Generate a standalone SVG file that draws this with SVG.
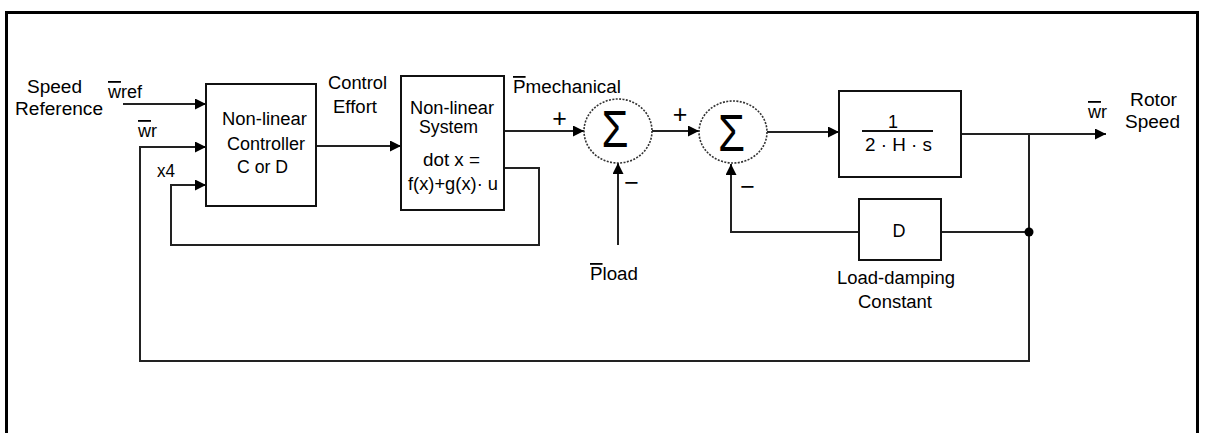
<svg xmlns="http://www.w3.org/2000/svg" width="1205" height="433" viewBox="0 0 1205 433">
<defs>
<style>
text{font-family:"Liberation Sans",Arial,sans-serif;font-size:18px;fill:#000}
.mid{text-anchor:middle}
.pm{font-size:25px}
.box{fill:#fff;stroke:#111;stroke-width:2}
.sum{fill:#fff;stroke:#333;stroke-width:1.6;stroke-dasharray:2 1.4}
.sig{font-size:52px}
.ln{fill:none;stroke:#222;stroke-width:2}
.ol{text-decoration:overline}
</style>
<marker id="ah" markerUnits="userSpaceOnUse" markerWidth="12" markerHeight="11" refX="11" refY="5.5" orient="auto">
<path d="M0,0 L11,5.5 L0,11 z" fill="#000"/>
</marker>
</defs>
<rect width="1205" height="433" fill="#fff"/>
<path d="M6.5,440 V12.5 H1197.5 V440" fill="none" stroke="#000" stroke-width="3"/>

<g id="connectors">
<path class="ln" d="M123,104 H206" marker-end="url(#ah)"/>
<path class="ln" d="M1029,134 V361 H140 V147 H206" marker-end="url(#ah)"/>
<path class="ln" d="M504,168 H539 V245 H171 V185 H206" marker-end="url(#ah)"/>
<path class="ln" d="M316,146 H401" marker-end="url(#ah)"/>
<path class="ln" d="M504,131 H584" marker-end="url(#ah)"/>
<path class="ln" d="M618,245 V163" marker-end="url(#ah)"/>
<path class="ln" d="M652,131 H699" marker-end="url(#ah)"/>
<path class="ln" d="M767,132 H839" marker-end="url(#ah)"/>
<path class="ln" d="M961,134 H1106" marker-end="url(#ah)"/>
<path class="ln" d="M1029,232 H941"/>
<path class="ln" d="M859,232 H731 V164" marker-end="url(#ah)"/>
<circle cx="1029" cy="232" r="4.5" fill="#000"/>
</g>

<g id="labels">
<text x="27" y="93" textLength="55" lengthAdjust="spacingAndGlyphs">Speed</text>
<text x="15" y="115" textLength="88" lengthAdjust="spacingAndGlyphs">Reference</text>
<text x="108" y="98" textLength="34" lengthAdjust="spacingAndGlyphs"><tspan class="ol">w</tspan>ref</text>
<text x="138" y="137" textLength="19" lengthAdjust="spacingAndGlyphs"><tspan class="ol">w</tspan>r</text>
<text x="157" y="177" textLength="18" lengthAdjust="spacingAndGlyphs">x4</text>
<text x="357.5" y="89" class="mid" textLength="59" lengthAdjust="spacingAndGlyphs">Control</text>
<text x="355" y="113" class="mid" textLength="44" lengthAdjust="spacingAndGlyphs">Effort</text>
<text x="513" y="93" textLength="108" lengthAdjust="spacingAndGlyphs"><tspan class="ol">P</tspan>mechanical</text>
<text x="590" y="280" textLength="48" lengthAdjust="spacingAndGlyphs"><tspan class="ol">P</tspan>load</text>
<text x="559.5" y="127" class="mid pm">+</text>
<text x="631.5" y="191" class="mid pm">−</text>
<text x="680" y="123" class="mid pm">+</text>
<text x="747.5" y="195" class="mid pm">−</text>
<text x="896" y="284" class="mid" textLength="118" lengthAdjust="spacingAndGlyphs">Load-damping</text>
<text x="895" y="308" class="mid" textLength="74" lengthAdjust="spacingAndGlyphs">Constant</text>
<text x="1088" y="118" textLength="19" lengthAdjust="spacingAndGlyphs"><tspan class="ol">w</tspan>r</text>
<text x="1153.5" y="106" class="mid" textLength="47" lengthAdjust="spacingAndGlyphs">Rotor</text>
<text x="1152.5" y="128" class="mid" textLength="55" lengthAdjust="spacingAndGlyphs">Speed</text>
</g>

<g id="controller">
<rect class="box" x="206" y="84" width="110" height="122"/>
<text x="264.5" y="125" class="mid" textLength="85" lengthAdjust="spacingAndGlyphs">Non-linear</text>
<text x="266" y="150" class="mid" textLength="78" lengthAdjust="spacingAndGlyphs">Controller</text>
<text x="262.5" y="173" class="mid" textLength="51" lengthAdjust="spacingAndGlyphs">C or D</text>
</g>

<g id="system">
<rect class="box" x="401" y="76" width="103" height="134"/>
<text x="452" y="114" class="mid" textLength="84" lengthAdjust="spacingAndGlyphs">Non-linear</text>
<text x="448.5" y="133" class="mid" textLength="59" lengthAdjust="spacingAndGlyphs">System</text>
<text x="451.5" y="166" class="mid" textLength="57" lengthAdjust="spacingAndGlyphs">dot x =</text>
<text x="453" y="190" class="mid" textLength="90" lengthAdjust="spacingAndGlyphs">f(x)+g(x)· u</text>
</g>

<g id="sum1">
<ellipse class="sum" cx="618" cy="131" rx="34" ry="32"/>
<text x="615" y="147" class="mid sig" textLength="27" lengthAdjust="spacingAndGlyphs">Σ</text>
</g>

<g id="sum2">
<ellipse class="sum" cx="733" cy="132" rx="34" ry="31"/>
<text x="731.5" y="151" class="mid sig" textLength="27" lengthAdjust="spacingAndGlyphs">Σ</text>
</g>

<g id="gain">
<rect class="box" x="839" y="91" width="122" height="86"/>
<text x="893" y="128" class="mid">1</text>
<line x1="862" y1="131" x2="933" y2="131" stroke="#111" stroke-width="2"/>
<text x="898.5" y="151" class="mid" textLength="67" lengthAdjust="spacingAndGlyphs">2 · H · s</text>
</g>

<g id="damping">
<rect class="box" x="859" y="199" width="82" height="61"/>
<text x="899" y="237" class="mid">D</text>
</g>
</svg>
